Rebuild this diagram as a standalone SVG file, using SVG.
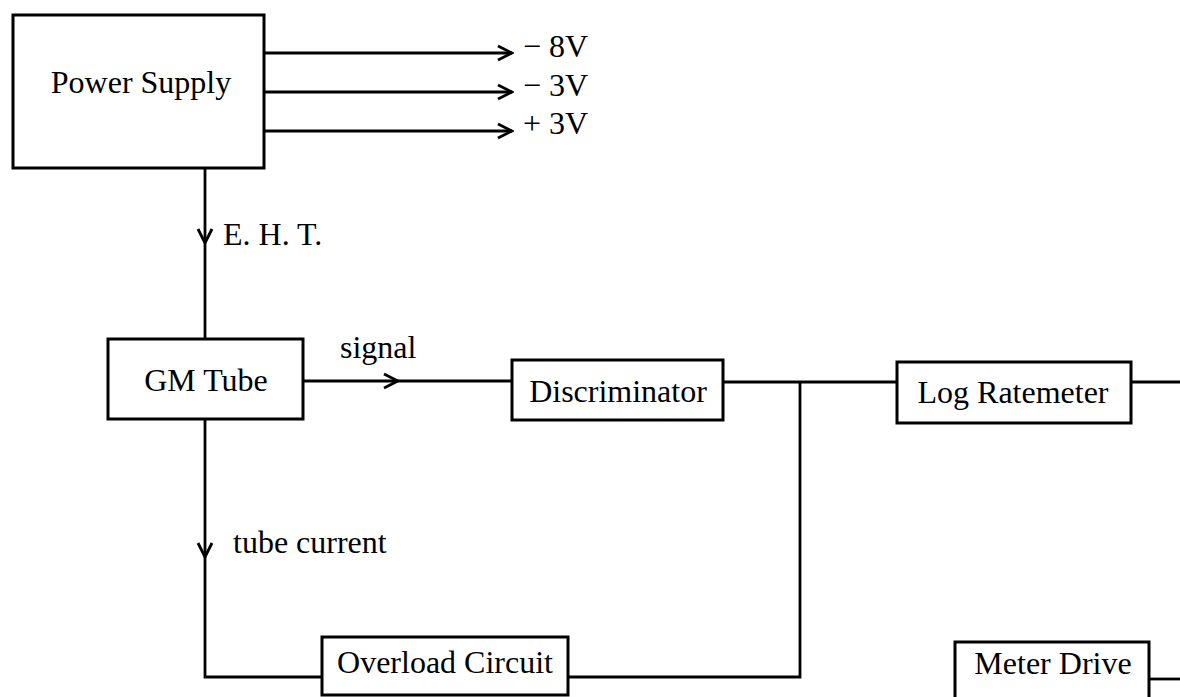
<svg xmlns="http://www.w3.org/2000/svg" width="1180" height="697" viewBox="0 0 1180 697">
<style>
.box{fill:#fff;stroke:#000;stroke-width:3}
.ln{fill:none;stroke:#000;stroke-width:2.8}
.t{font-family:"Liberation Serif","Times New Roman",serif;font-size:32px;fill:#000}
.c{text-anchor:middle}
</style>
<defs>
<marker id="chev" viewBox="0 0 18 18" refX="16" refY="9" markerWidth="18" markerHeight="18" markerUnits="userSpaceOnUse" orient="auto">
<path d="M2,2 L16,9 L2,16" fill="none" stroke="#000" stroke-width="2.8"/>
</marker>
</defs>
<rect width="1180" height="697" fill="#fff"/>
<g id="connectors">
<line class="ln" x1="264" y1="53" x2="512" y2="53" marker-end="url(#chev)"/>
<line class="ln" x1="264" y1="92" x2="512" y2="92" marker-end="url(#chev)"/>
<line class="ln" x1="264" y1="131" x2="512" y2="131" marker-end="url(#chev)"/>
<line class="ln" x1="205" y1="168" x2="205" y2="243" marker-end="url(#chev)"/>
<line class="ln" x1="205" y1="243" x2="205" y2="339"/>
<line class="ln" x1="303" y1="381" x2="398" y2="381" marker-end="url(#chev)"/>
<line class="ln" x1="398" y1="381" x2="512" y2="381"/>
<polyline class="ln" points="723,382 897,382"/>
<line class="ln" x1="1131" y1="382" x2="1180" y2="382"/>
<line class="ln" x1="205" y1="419" x2="205" y2="557" marker-end="url(#chev)"/>
<polyline class="ln" points="205,557 205,677 322,677"/>
<polyline class="ln" points="568,677 800,677 800,382"/>
<line class="ln" x1="1149" y1="679" x2="1180" y2="679"/>
</g>
<g id="power-supply">
<rect class="box" x="13" y="15" width="251" height="153"/>
<text class="t c" x="141" y="93">Power Supply</text>
</g>
<g id="labels">
<text class="t" x="523" y="57">− 8V</text>
<text class="t" x="523" y="96">− 3V</text>
<text class="t" x="523" y="134">+ 3V</text>
<text class="t" x="223" y="245">E. H. T.</text>
<text class="t" x="340" y="358">signal</text>
<text class="t" x="233" y="553">tube current</text>
</g>
<g id="gm-tube">
<rect class="box" x="108" y="339" width="195" height="80"/>
<text class="t c" x="206" y="391">GM Tube</text>
</g>
<g id="discriminator">
<rect class="box" x="512" y="360" width="211" height="60"/>
<text class="t c" x="618" y="402">Discriminator</text>
</g>
<g id="log-ratemeter">
<rect class="box" x="897" y="362" width="234" height="61"/>
<text class="t c" x="1013" y="403">Log Ratemeter</text>
</g>
<g id="overload-circuit">
<rect class="box" x="322" y="637" width="246" height="58"/>
<text class="t c" x="445" y="673">Overload Circuit</text>
</g>
<g id="meter-drive">
<rect class="box" x="955" y="642" width="194" height="60"/>
<text class="t c" x="1053" y="674">Meter Drive</text>
</g>
</svg>
